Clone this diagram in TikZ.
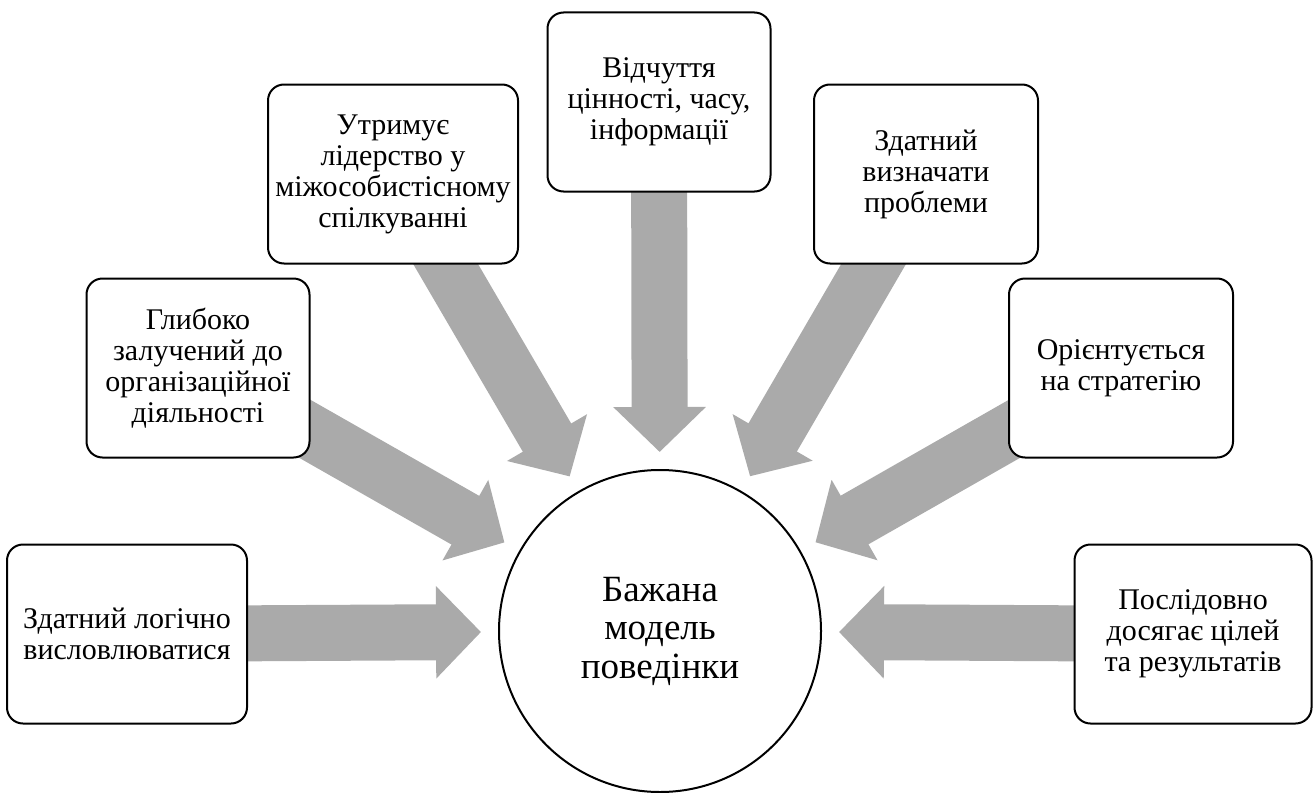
\documentclass[tikz,border=0pt]{standalone}
\usepackage{fontspec}
\setmainfont{Liberation Serif}
\usetikzlibrary{arrows.meta,backgrounds}
\definecolor{arrowgray}{RGB}{170,170,170}
\begin{document}
\begin{tikzpicture}[x=1pt, y=-1pt,
    box/.style={draw, line width=2pt, rounded corners=16pt, fill=white,
      align=center, inner sep=0pt, outer sep=0pt, minimum height=179pt,
      font=\fontsize{30}{31}\selectfont},
    bigarrow/.style={draw=arrowgray, line width=56pt,
      -{Triangle[length=45pt, width=90pt]}, shorten >=18pt}]
  \useasboundingbox (0,0) rectangle (1313,792);
  % central circle
  \node[circle, draw, line width=2pt, fill=white, minimum size=322pt,
    inner sep=0pt, outer sep=0pt, align=center,
    font=\fontsize{37}{38.5}\selectfont] (model) at (660,631)
    {Бажана\\модель\\поведінки};
  % left side boxes
  \node[box, minimum width=240pt] (logic) at (127,634)
    {Здатний логічно\\висловлюватися};
  \node[box, minimum width=223pt] (involved) at (198,368)
    {Глибоко\\залучений до\\організаційної\\діяльності};
  \node[box, minimum width=250pt] (leader) at (393,174)
    {Утримує\\лідерство у\\міжособистісному\\спілкуванні};
  % top box
  \node[box, minimum width=223pt] (value) at (659,102)
    {Відчуття\\цінності, часу,\\інформації};
  % right side boxes
  \node[box, minimum width=224pt] (problem) at (926,174)
    {Здатний\\визначати\\проблеми};
  \node[box, minimum width=224pt] (strategy) at (1121,368)
    {Орієнтується\\на стратегію};
  \node[box, minimum width=237pt] (result) at (1193,634)
    {Послідовно\\досягає цілей\\та результатів};
  % block arrows behind the boxes
  \begin{scope}[on background layer]
    \foreach \src in {logic,involved,leader,value,problem,strategy,result}
      \draw[bigarrow] (\src.center) -- (model);
  \end{scope}
\end{tikzpicture}
\end{document}
